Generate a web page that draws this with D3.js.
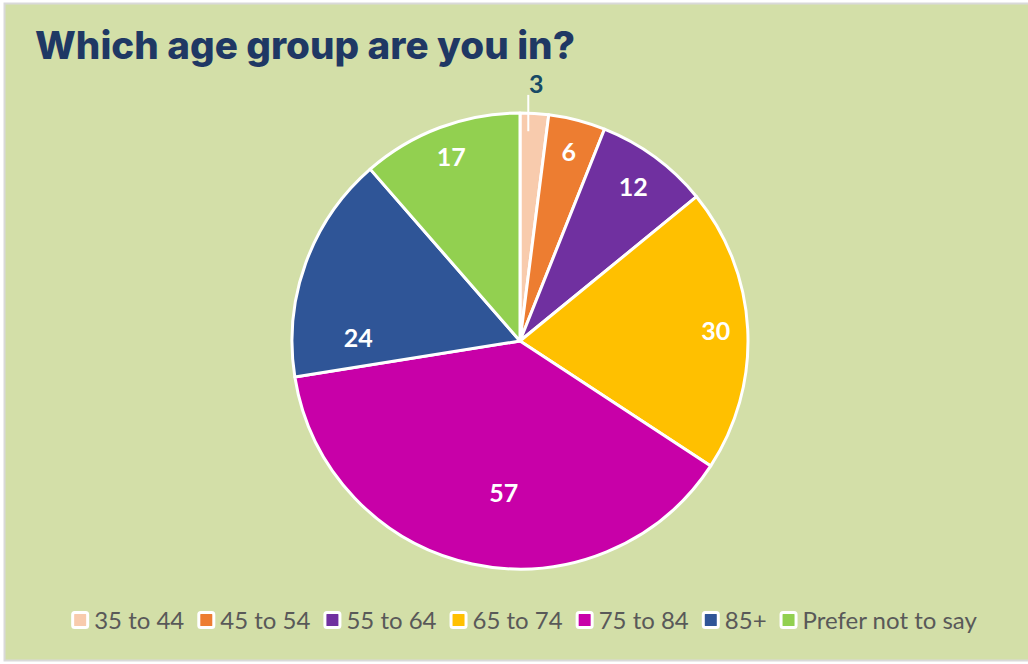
<!DOCTYPE html>
<html>
<head>
<meta charset="utf-8">
<script src="https://cdn.jsdelivr.net/npm/d3@7"></script>
<style>
  html, body { margin: 0; padding: 0; background: #fff; }
</style>
</head>
<body>
<div id="vis"></div>
<script>
/* data */
let ageGroups = ["35 to 44", "45 to 54", "55 to 64", "65 to 74", "75 to 84", "85+", "Prefer not to say"];
let counts = [3, 6, 12, 30, 57, 24, 17];
let colors = ["#f8cbad", "#ed7d31", "#7030a0", "#ffc000", "#c800a8", "#2f5597", "#92d050"];

/* label placement like excel's best fit:
 * fraction of radius, and angle nudge in degrees */
let labelR = [1.13, 0.855, 0.84, 0.86, 0.67, 0.71, 0.86];
let labelNudge = [0, 0, 0, 0, -6, -19, 0];

/* geometry */
let width = 1028;
let height = 664;
let cx = 520, cy = 341, radius = 228;
let backColor = "#d3dfa8";

let svg = d3.select("#vis").append("svg")
  .attr("width", width)
  .attr("height", height);

/* chart area with thin grey border */
svg.append("rect")
  .attr("x", 4.5).attr("y", 3.5)
  .attr("width", 1030).attr("height", 657)
  .attr("fill", backColor)
  .attr("stroke", "#d9d9d9")
  .attr("stroke-width", 2);

/* title */
svg.append("text")
  .attr("x", 35)
  .attr("y", 59)
  .attr("font-family", "Inter, sans-serif")
  .attr("font-weight", 800)
  .attr("font-size", 38)
  .attr("fill", "#1f3864")
  .attr("textLength", 540)
  .attr("lengthAdjust", "spacingAndGlyphs")
  .text("Which age group are you in?");

/* pie */
let pie = d3.pie().sort(null).value(d => d)(counts);
let arc = d3.arc().innerRadius(0).outerRadius(radius);

let g = svg.append("g").attr("transform", "translate(" + cx + "," + cy + ")");
g.selectAll("path.slice")
  .data(pie)
  .enter().append("path")
    .classed("slice", true)
    .attr("d", arc)
    .attr("fill", (d, i) => colors[i])
    .attr("stroke", "#fff")
    .attr("stroke-width", 3)
    .attr("stroke-linejoin", "round");

/* data labels */
let pos = (d, i) => {
  let a = (d.startAngle + d.endAngle) / 2 + labelNudge[i] * Math.PI / 180;
  let r = radius * labelR[i];
  return [Math.sin(a) * r, -Math.cos(a) * r];
};
pie.forEach((d, i) => {
  let [x, y] = pos(d, i);
  let outside = labelR[i] > 1;
  if (outside) {
    /* leader line down into the slice */
    g.append("line")
      .attr("x1", x - 8).attr("x2", x - 8)
      .attr("y1", y + 11).attr("y2", -radius * 0.92)
      .attr("stroke", "#fff")
      .attr("stroke-width", 2);
  }
  g.append("text")
    .attr("x", x)
    .attr("y", y)
    .attr("dy", "0.36em")
    .attr("text-anchor", "middle")
    .attr("font-family", "Lato, sans-serif")
    .attr("font-weight", 700)
    .attr("font-size", 25)
    .attr("fill", outside ? "#174a66" : "#fff")
    .text(counts[i]);
});

/* legend */
let leg = svg.append("g");
let lx = 0;
ageGroups.forEach((name, i) => {
  let it = leg.append("g");
  it.append("rect")
    .attr("x", lx + 1.5).attr("y", 612.5)
    .attr("width", 15).attr("height", 15)
    .attr("rx", 2)
    .attr("fill", colors[i])
    .attr("stroke", "#fff")
    .attr("stroke-width", 3);
  let t = it.append("text")
    .attr("x", lx + 23)
    .attr("y", 621)
    .attr("dy", "0.35em")
    .attr("font-family", "Lato, sans-serif")
    .attr("font-size", 24)
    .attr("fill", "#595959")
    .text(name);
  lx += 23 + t.node().getComputedTextLength() + 13;
});
let legW = lx - 13;
leg.attr("transform", "translate(" + (524 - legW / 2) + ",0)");
</script>
</body>
</html>
